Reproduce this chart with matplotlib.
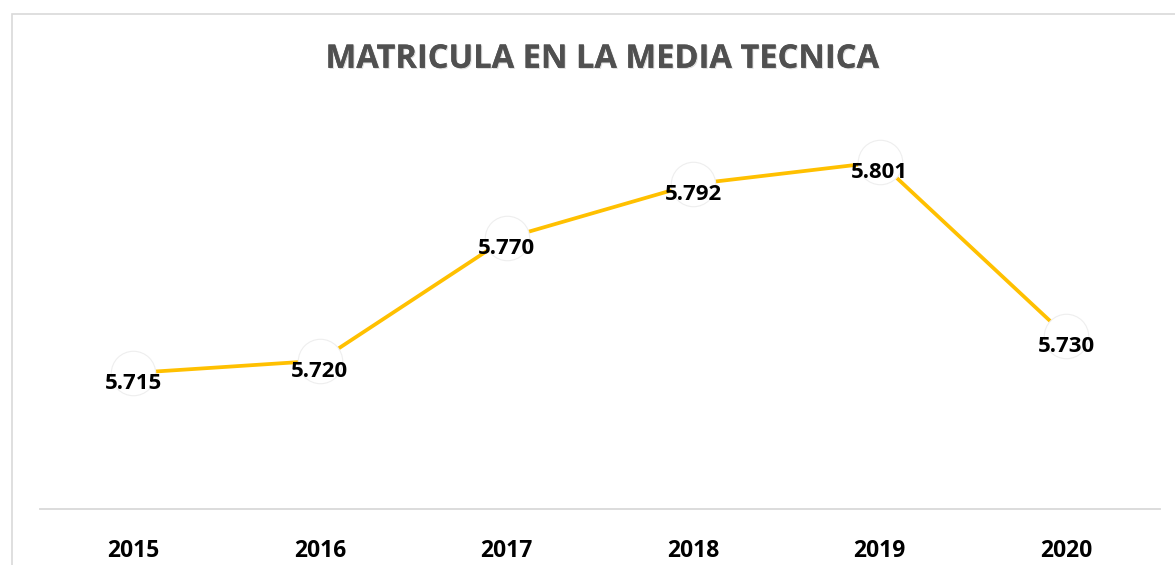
import matplotlib.pyplot as plt
from matplotlib.patches import Rectangle
import matplotlib.patheffects as pe

# --- DATOS ---
anios = ['2015', '2016', '2017', '2018', '2019', '2020']
matricula = [5715, 5720, 5770, 5792, 5801, 5730]
etiquetas = ['5.715', '5.720', '5.770', '5.792', '5.801', '5.730']

TITULO = 'MATRICULA EN LA MEDIA TECNICA'
COLOR_LINEA = '#FFC000'

plt.rcParams['font.family'] = ['Open Sans', 'DejaVu Sans']

fig = plt.figure(figsize=(11.75, 5.65), dpi=100)
ax = fig.add_axes([0.034, 0.099, 0.953, 0.74])

# marco exterior del gráfico
fig.patches.append(Rectangle((12 / 1175, -0.05), 1.1, 1 - 14 / 565 + 0.05,
                             transform=fig.transFigure, fill=False,
                             edgecolor='#d9d9d9', linewidth=1.2))

x = list(range(len(anios)))
ax.plot(x, matricula, color=COLOR_LINEA, linewidth=2.7, zorder=2)
ax.plot(x, matricula, linestyle='none', marker='o', markersize=32,
        markerfacecolor='white', markeredgecolor='#eeeeee',
        markeredgewidth=0.8, zorder=3)

for xi, v, txt in zip(x, matricula, etiquetas):
    ax.annotate(txt, (xi, v), xytext=(0, -7.5), textcoords='offset points',
                ha='center', va='center', fontsize=16, fontweight='bold',
                color='black', zorder=4)

ax.set_xlim(-0.5, len(anios) - 0.5)
ax.set_ylim(5659.5, 5830)
ax.set_xticks(x)
ax.set_xticklabels(anios, fontsize=16.5, fontweight='bold')
ax.tick_params(axis='x', length=0, pad=21.5)
ax.set_yticks([])

for lado in ['top', 'right', 'left']:
    ax.spines[lado].set_visible(False)
ax.spines['bottom'].set_color('#d9d9d9')
ax.spines['bottom'].set_linewidth(1.3)

fig.text(0.512, 0.895, TITULO, ha='center', va='center', fontsize=23.5,
         fontweight='bold', color='#505050',
         path_effects=[pe.withSimplePatchShadow(offset=(0.8, -0.8),
                                                shadow_rgbFace='#bbbbbb', alpha=0.5),
                       pe.Normal()])

fig.savefig('out.png', dpi=100)
